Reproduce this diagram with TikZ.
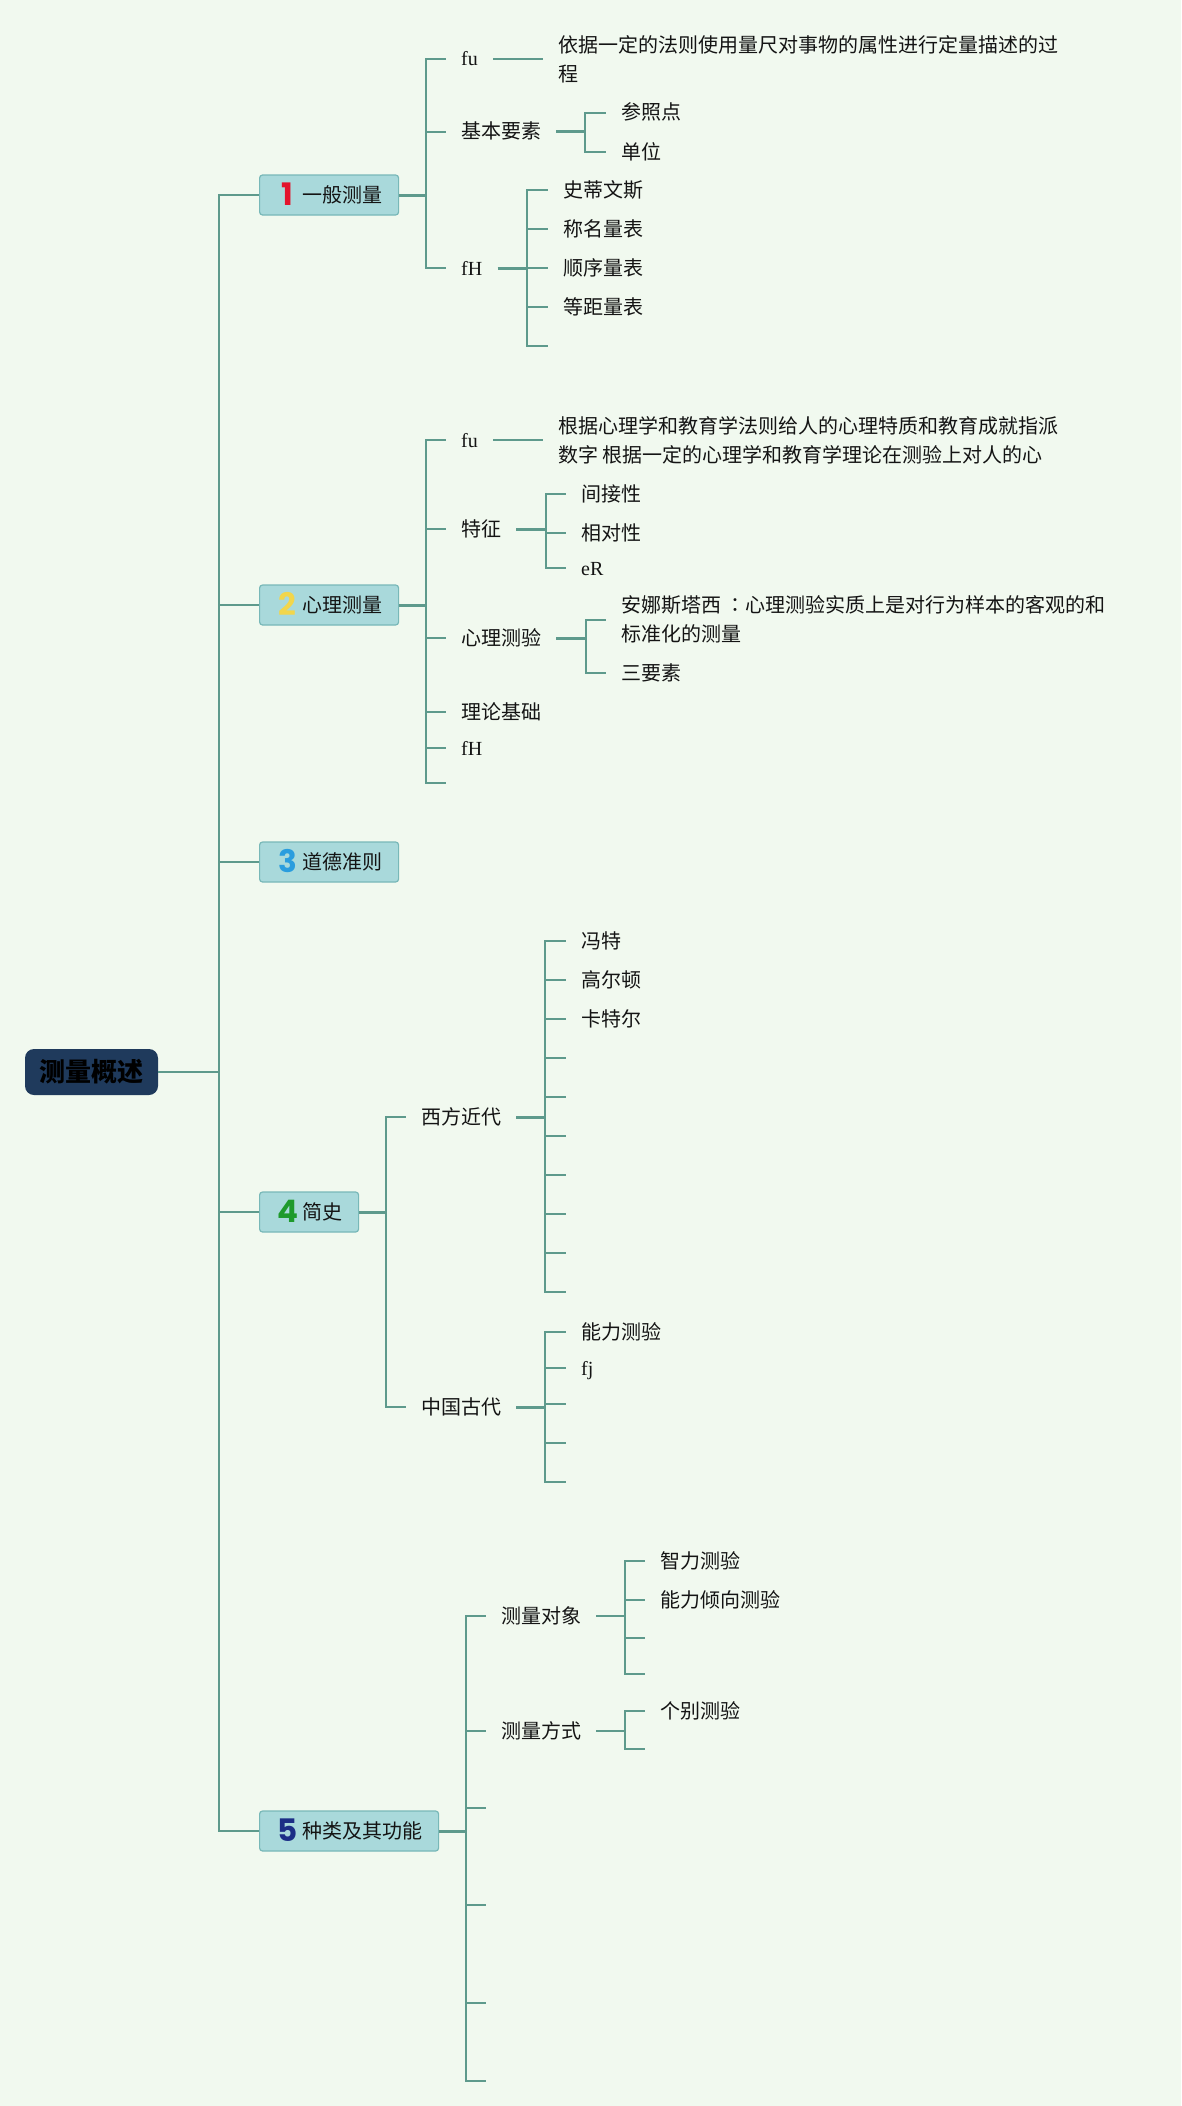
\documentclass[tikz,border=0pt]{standalone}
\usepackage{fontspec}
\setmainfont{Noto Sans CJK SC}
\newfontfamily\latf{Liberation Serif}
\newfontfamily\numf{Poppins}
\newfontfamily\tcf{Noto Sans CJK TC}
\definecolor{bgc}{HTML}{F1F9EF}
\definecolor{lncol}{HTML}{5E9A8C}
\definecolor{boxfill}{HTML}{A9D9DB}
\definecolor{boxbd}{HTML}{78B8B8}
\definecolor{rootfill}{HTML}{1F3A5C}
\definecolor{txt}{HTML}{141414}
\definecolor{nA}{HTML}{E3132C}
\definecolor{nB}{HTML}{F2D64B}
\definecolor{nC}{HTML}{2A9DDE}
\definecolor{nD}{HTML}{1E9A2C}
\definecolor{nE}{HTML}{1C2E86}
\newcommand\mycatnum[2]{\hspace*{18pt}\makebox[20pt]{\raisebox{-3pt}{\color{#1}\numf\bfseries\fontsize{31}{31}\selectfont #2}}\hspace*{5pt}}
\begin{document}
\begin{tikzpicture}[x=1pt,y=-1pt,
  ln/.style={draw=lncol,line width=2pt},
  thk/.style={draw=lncol,line width=3pt},
  leaf/.style={anchor=west,inner xsep=15pt,inner ysep=0pt,text height=17pt,text depth=3pt,font=\fontsize{20}{29.5}\selectfont,text=txt},
  para/.style={anchor=west,inner xsep=15pt,inner ysep=0pt,align=left,font=\fontsize{20}{29.5}\selectfont,text=txt},
  cat/.style={anchor=west,draw=boxbd,fill=boxfill,line width=1.2pt,rounded corners=3pt,minimum height=40pt,inner xsep=0pt,inner ysep=0pt,text height=17pt,text depth=3pt,font=\fontsize{20}{24}\selectfont,text=txt},
  rootbox/.style={fill=rootfill,rounded corners=9pt,minimum width=133pt,minimum height=46pt,inner sep=0pt,font=\fontsize{26}{30}\selectfont\bfseries,text=black}
]
\fill[bgc] (0,0) rectangle (1181,2106);
\useasboundingbox (0,0) rectangle (1181,2106);

% root and categories
\node[rootbox] (root) at (91.5,1072) {测量概述};
\coordinate (tr) at (219,1072);
\node[cat] (c1) at (259,195) {\mycatnum{nA}{1}一般测量\hspace*{16pt}};
\node[cat] (c2) at (259,605) {\mycatnum{nB}{2}心理测量\hspace*{16pt}};
\node[cat] (c3) at (259,862) {\mycatnum{nC}{3}道德准则\hspace*{16pt}};
\node[cat] (c4) at (259,1212) {\mycatnum{nD}{4}简史\hspace*{16pt}};
\node[cat] (c5) at (259,1831) {\mycatnum{nE}{5}种类及其功能\hspace*{16pt}};
\draw[ln] (root.east) -- (tr);
\foreach \c in {c1,c2,c3,c4,c5} \draw[ln] (tr) |- (\c.west);

% section 1
\coordinate (c1b) at (426,195);
\node[leaf] (fu1) at (446,59) {\latf fu};
\node[para] (def1) at (543,59.5) {依据一定的法则使用量尺对事物的属性进行定量描述的过\\程};
\node[leaf] (jb) at (446,132) {基本要素};
\coordinate (jbb) at (585,132);
\node[leaf] (cz) at (606,113) {参照点};
\node[leaf] (dw) at (606,152) {单位};
\node[leaf] (fh1) at (446,268) {\latf fH};
\coordinate (fh1b) at (527,268);
\node[leaf] (swz) at (548,190) {史蒂文斯};
\node[leaf] (cm) at (548,229) {称名量表};
\node[leaf] (sx) at (548,268) {顺序量表};
\node[leaf] (dj) at (548,307) {等距量表};
\coordinate (e11) at (548,346);
\draw[thk] (c1.east) -- (c1b);
\foreach \n in {fu1,jb,fh1} \draw[ln] (c1b) |- (\n.west);
\draw[ln] (fu1.east) -- (fu1.east -| def1.west);
\draw[thk] (jb.east) -- (jbb);
\foreach \n in {cz,dw} \draw[ln] (jbb) |- (\n.west);
\draw[thk] (fh1.east) -- (fh1b);
\foreach \n in {swz,cm,sx,dj} \draw[ln] (fh1b) |- (\n.west);
\draw[ln] (fh1b) |- (e11);

% section 2
\coordinate (c2b) at (426,605);
\node[leaf] (fu2) at (446,440) {\latf fu};
\node[para] (def2) at (543,440.5) {根据心理学和教育学法则给人的心理特质和教育成就指派\\数字 根据一定的心理学和教育学理论在测验上对人的心};
\node[leaf] (tz) at (446,529) {特征};
\coordinate (tzb) at (546,529);
\node[leaf] (jj) at (566,494) {间接性};
\node[leaf] (xd) at (566,533) {相对性};
\node[leaf] (er) at (566,568) {\latf eR};
\node[leaf] (cs) at (446,638) {心理测验};
\coordinate (csb) at (586,638);
\node[para] (anna) at (606,619.5) {安娜斯塔西 {\tcf ：}心理测验实质上是对行为样本的客观的和\\标准化的测量};
\node[leaf] (syz) at (606,673) {三要素};
\node[leaf] (ll) at (446,712) {理论基础};
\node[leaf] (fh2) at (446,748) {\latf fH};
\coordinate (e21) at (446,783);
\draw[thk] (c2.east) -- (c2b);
\foreach \n in {fu2,tz,cs,ll,fh2} \draw[ln] (c2b) |- (\n.west);
\draw[ln] (c2b) |- (e21);
\draw[ln] (fu2.east) -- (fu2.east -| def2.west);
\draw[thk] (tz.east) -- (tzb);
\foreach \n in {jj,xd,er} \draw[ln] (tzb) |- (\n.west);
\draw[thk] (cs.east) -- (csb);
\foreach \n in {anna,syz} \draw[ln] (csb) |- (\n.west);

% section 4
\coordinate (c4b) at (386,1212);
\node[leaf] (xf) at (406,1117) {西方近代};
\coordinate (xfb) at (545,1117);
\node[leaf] (wt) at (566,941) {冯特};
\node[leaf] (ged) at (566,980) {高尔顿};
\node[leaf] (ktr) at (566,1019) {卡特尔};
\coordinate (e41) at (566,1058);
\coordinate (e42) at (566,1097);
\coordinate (e43) at (566,1136);
\coordinate (e44) at (566,1175);
\coordinate (e45) at (566,1214);
\coordinate (e46) at (566,1253);
\coordinate (e47) at (566,1292);
\node[leaf] (zg) at (406,1407) {中国古代};
\coordinate (zgb) at (545,1407);
\node[leaf] (nlcy) at (566,1332) {能力测验};
\node[leaf] (fj) at (566,1368) {\latf fj};
\coordinate (e48) at (566,1404);
\coordinate (e49) at (566,1443);
\coordinate (e4a) at (566,1482);
\draw[thk] (c4.east) -- (c4b);
\foreach \n in {xf,zg} \draw[ln] (c4b) |- (\n.west);
\draw[thk] (xf.east) -- (xfb);
\foreach \n in {wt,ged,ktr} \draw[ln] (xfb) |- (\n.west);
\foreach \n in {e41,e42,e43,e44,e45,e46,e47} \draw[ln] (xfb) |- (\n);
\draw[thk] (zg.east) -- (zgb);
\foreach \n in {nlcy,fj} \draw[ln] (zgb) |- (\n.west);
\foreach \n in {e48,e49,e4a} \draw[ln] (zgb) |- (\n);

% section 5
\coordinate (c5b) at (466,1831);
\node[leaf] (dx) at (486,1616) {测量对象};
\coordinate (dxb) at (625,1616);
\node[leaf] (zl) at (645,1561) {智力测验};
\node[leaf] (nlqx) at (645,1600) {能力倾向测验};
\coordinate (e51) at (645,1638);
\coordinate (e52) at (645,1674);
\node[leaf] (fs) at (486,1731) {测量方式};
\coordinate (fsb) at (625,1731);
\node[leaf] (gb) at (645,1711) {个别测验};
\coordinate (e53) at (645,1749);
\coordinate (e54) at (486,1808);
\coordinate (e55) at (486,1905);
\coordinate (e56) at (486,2003);
\coordinate (e57) at (486,2081);
\draw[thk] (c5.east) -- (c5b);
\foreach \n in {dx,fs} \draw[ln] (c5b) |- (\n.west);
\foreach \n in {e54,e55,e56,e57} \draw[ln] (c5b) |- (\n);
\draw[ln] (dx.east) -- (dxb);
\foreach \n in {zl,nlqx} \draw[ln] (dxb) |- (\n.west);
\foreach \n in {e51,e52} \draw[ln] (dxb) |- (\n);
\draw[ln] (fs.east) -- (fsb);
\draw[ln] (fsb) |- (gb.west);
\draw[ln] (fsb) |- (e53);
\end{tikzpicture}
\end{document}
